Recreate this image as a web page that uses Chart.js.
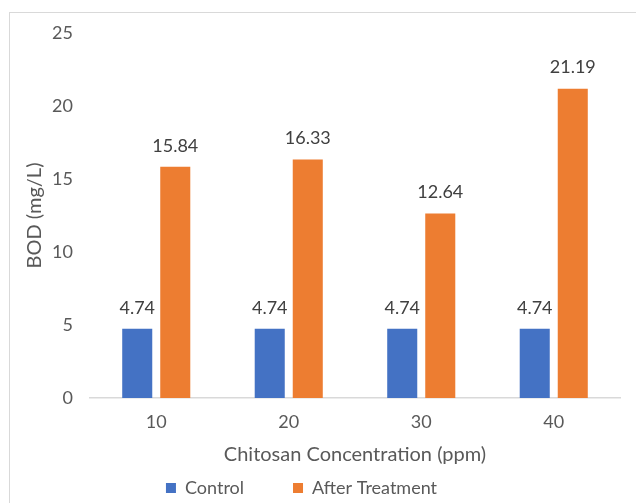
<!DOCTYPE html>
<html>
<head>
<meta charset="utf-8">
<script src="https://cdn.jsdelivr.net/npm/chart.js@4.4.1/dist/chart.umd.min.js"></script>
<style>
  html, body { margin: 0; padding: 0; background: #fff; overflow: hidden; }
  .frame {
    position: absolute;
    left: 9px;
    top: 12px;
    width: 680px;
    height: 560px;
    border: 1px solid #d9d9d9;
  }
</style>
</head>
<body>
<div class="frame"><canvas id="myChart" width="680" height="560"></canvas></div>
<script>
"use strict";

// Chart data
const concentrations = ["10", "20", "30", "40"];
const controlValues = [4.74, 4.74, 4.74, 4.74];
const treatmentValues = [15.84, 16.33, 12.64, 21.19];
const yTicks = [0, 5, 10, 15, 20, 25];

const textColor = "#595959";
const fontFamily = "Lato, 'Open Sans', sans-serif";

Chart.defaults.font.family = fontFamily;
Chart.defaults.font.size = 18;
Chart.defaults.color = textColor;

// Value labels above each bar
const barLabels = {
  id: "barLabels",
  afterDatasetsDraw(chart) {
    const ctx = chart.ctx;
    ctx.save();
    ctx.font = "18px " + fontFamily;
    ctx.fillStyle = "#404040";
    ctx.textAlign = "center";
    ctx.textBaseline = "middle";
    chart.data.datasets.forEach((ds, i) => {
      chart.getDatasetMeta(i).data.forEach((bar, j) => {
        ctx.fillText(ds.data[j].toFixed(2), bar.x, bar.y - 21);
      });
    });
    ctx.restore();
  },
};

// Nudge the legend a little to the left, like the original
const legendShift = {
  id: "legendShift",
  afterLayout(chart) {
    chart.legend.left -= 13.5;
    chart.legend.right -= 13.5;
  },
};

const ctx = document.getElementById("myChart").getContext("2d");

const myChart = new Chart(ctx, {
  type: "bar",
  data: {
    labels: concentrations,
    datasets: [
      {
        label: "Control",
        data: controlValues,
        backgroundColor: "#4472c4",
      },
      {
        label: "After Treatment",
        data: treatmentValues,
        backgroundColor: "#ed7d31",
      },
    ],
  },
  options: {
    responsive: false,
    animation: false,
    categoryPercentage: 0.574,
    barPercentage: 0.79,
    layout: {
      padding: { top: 20, right: 70, bottom: 66, left: 0 },
    },
    scales: {
      x: {
        afterFit: (scale) => {
          scale.height = 32;
        },
        grid: { display: false, drawTicks: false },
        border: { display: true, color: "#d9d9d9", width: 1.5 },
        ticks: { padding: 15, color: textColor, font: { size: 18, lineHeight: 1 } },
        title: {
          display: true,
          text: "Chitosan Concentration (ppm)",
          color: textColor,
          font: { size: 20 },
          padding: { top: 0, bottom: -37 },
        },
      },
      y: {
        min: 0,
        max: 25,
        afterBuildTicks: (scale) => {
          scale.ticks = yTicks.map((v) => ({ value: v }));
        },
        afterFit: (scale) => {
          scale.width = 80;
          scale.paddingTop = 0;
          scale.paddingBottom = 0;
        },
        grid: { display: false, drawTicks: false },
        border: { display: false },
        ticks: { padding: 17, color: textColor },
        title: {
          display: true,
          text: "BOD (mg/L)",
          color: textColor,
          font: { size: 20 },
          padding: { top: 13, bottom: 0 },
        },
      },
    },
    plugins: {
      legend: {
        position: "bottom",
        labels: {
          boxWidth: 10,
          boxHeight: 10,
          padding: 49,
          color: textColor,
          font: { size: 18 },
        },
      },
      tooltip: { enabled: false },
    },
  },
  plugins: [barLabels, legendShift],
});
</script>
</body>
</html>
